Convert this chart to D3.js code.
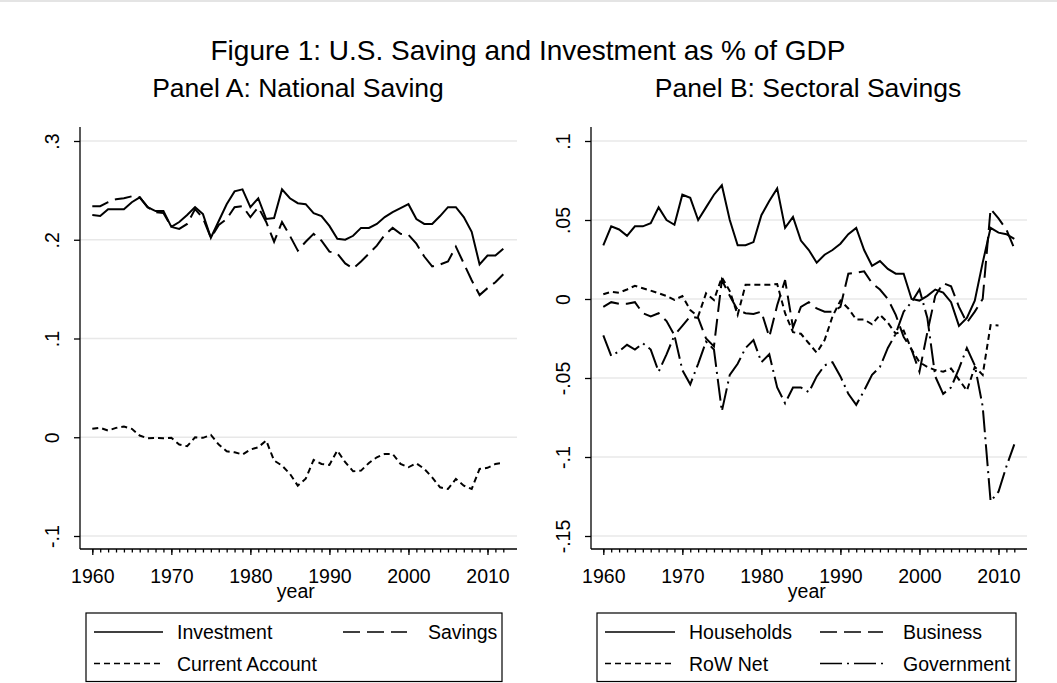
<!DOCTYPE html>
<html>
<head>
<meta charset="utf-8">
<title>Figure 1: U.S. Saving and Investment as % of GDP</title>
<script src="https://cdnjs.cloudflare.com/ajax/libs/d3/7.8.5/d3.min.js"></script>
<style>
    body { margin: 0; background: #fff; }
    svg text { font-family: "Liberation Sans", Arial, sans-serif; fill: #000; }
    .axis path, .axis line { stroke: #000; stroke-width: 1.3; }
</style>
</head>
<body>
<svg id="chart" width="1057" height="683"></svg>
<script>
// ---- data ----
var years = d3.range(1960, 2013);
var rowYears = d3.range(1960, 2011);

// Panel A
var investment = [.225, .224, .231, .231, .231, .238, .243, .233, .229, .229,
    .213, .218, .225, .233, .226, .202, .219, .236, .249, .251,
    .233, .242, .221, .222, .251, .242, .237, .236, .227, .224,
    .214, .201, .200, .204, .212, .212, .216, .223, .228, .232,
    .236, .221, .216, .216, .224, .233, .233, .223, .208, .175,
    .184, .184, .191];
var savings = [.234, .234, .238, .241, .242, .244, .243, .233, .228, .227,
    .213, .211, .216, .231, .222, .202, .215, .221, .233, .234,
    .223, .233, .218, .198, .218, .204, .189, .198, .206, .199,
    .188, .186, .176, .171, .178, .186, .194, .205, .212, .206,
    .205, .196, .183, .173, .175, .178, .193, .176, .159, .144,
    .151, .157, .165];
var currentAccount = [.0085, .0095, .0068, .0095, .0108, .0085, .0017, -.001, -.0006, -.001,
    -.0006, -.0074, -.0091, 0, -.0006, .0024, -.0074, -.0142, -.0152, -.0175,
    -.0125, -.0101, -.0033, -.0236, -.0287, -.037, -.049, -.042, -.023, -.027,
    -.028, -.0135, -.0253, -.0345, -.0338, -.026, -.0203, -.0169, -.0169, -.027,
    -.0304, -.0264, -.032, -.0406, -.0507, -.0524, -.0422, -.049, -.0524, -.032,
    -.031, -.027, -.026];

// Panel B
var households = [.034, .046, .044, .040, .046, .046, .048, .058, .050, .047,
    .066, .064, .050, .058, .066, .072, .050, .034, .034, .036,
    .053, .062, .070, .045, .052, .037, .031, .023, .028, .031,
    .035, .041, .045, .031, .021, .024, .019, .016, .016, .000,
    -.001, .002, .006, .004, -.002, -.017, -.012, -.001, .023, .045,
    .042, .041, .038];
var business = [-.005, -.002, -.003, -.003, -.002, -.009, -.011, -.009, -.014, -.023,
    -.017, -.011, -.012, -.025, -.030, .012, .002, -.007, -.009, -.0095,
    -.008, -.024, -.004, .012, -.018, -.005, -.002, -.006, -.008, -.008,
    -.005, .016, .0167, .0175, .010, .006, .000, -.010, -.024, -.032,
    -.046, -.021, .002, .010, .008, -.005, -.015, -.008, .000, .057,
    .051, .044, .032];
var rowNet = [.003, .0046, .004, .006, .0084, .0068, .0053, .0036, .0019, -.0006,
    .0019, -.007, -.011, .0036, -.0006, .0137, .005, -.010, .009, .009,
    .009, .009, .0095, -.009, -.021, -.022, -.028, -.034, -.026, -.011,
    -.001, -.006, -.013, -.013, -.016, -.010, -.015, -.022, -.020, -.032,
    -.040, -.043, -.045, -.046, -.044, -.051, -.058, -.043, -.048, -.0165,
    -.0168];
var government = [-.023, -.036, -.033, -.029, -.032, -.028, -.032, -.046, -.035, -.023,
    -.045, -.054, -.041, -.027, -.032, -.071, -.048, -.041, -.031, -.026,
    -.040, -.035, -.056, -.066, -.056, -.056, -.059, -.049, -.042, -.040,
    -.049, -.060, -.067, -.058, -.048, -.043, -.031, -.022, -.008, -.002,
    .006, -.012, -.049, -.060, -.056, -.044, -.031, -.042, -.068, -.128,
    -.122, -.106, -.092];

var majorYears = [1960, 1970, 1980, 1990, 2000, 2010];
var ticksA = [-0.1, 0, 0.1, 0.2, 0.3];
var tickLabelsA = ["-.1", "0", ".1", ".2", ".3"];
var ticksB = [-0.15, -0.1, -0.05, 0, 0.05, 0.1];
var tickLabelsB = ["-.15", "-.1", "-.05", "0", ".05", ".1"];

var dashes = {
    solid: null,
    longdash: "17,7",
    shortdash: "6,4",
    dashdot: "22,5,2,5"
};

var smallFont = 19.5;

var svg = d3.select("#chart");

svg.append("line")
    .attr("x1", 0).attr("x2", 1057).attr("y1", 1).attr("y2", 1)
    .attr("stroke", "#e4e4e4").attr("stroke-width", 2);

svg.append("text")
    .attr("x", 528).attr("y", 60)
    .attr("text-anchor", "middle")
    .attr("font-size", 28)
    .text("Figure 1: U.S. Saving and Investment as % of GDP");

function drawPanel(p) {
    var g = svg.append("g");
    var top = 127, bottom = 549;

    var x = d3.scaleLinear().domain([1960, 2012]).range([p.left + 12.3, p.left + 423.3]);
    var y = d3.scaleLinear().domain(p.yDomain).range([536, 141]);

    // grid
    g.selectAll(".gl")
        .data(p.ticks)
        .enter()
        .append("line")
        .attr("x1", p.left).attr("x2", p.right)
        .attr("y1", function (d) { return y(d); })
        .attr("y2", function (d) { return y(d); })
        .attr("stroke", "#e8e8e8")
        .attr("stroke-width", 1.6);

    // y axis
    var yAxis = d3.axisLeft(y)
        .tickValues(p.ticks)
        .tickSize(6)
        .tickFormat(function (d, i) { return p.labels[i]; });
    var ya = g.append("g")
        .attr("class", "axis")
        .attr("transform", "translate(" + p.left + ",0)")
        .call(yAxis);
    ya.select(".domain").remove();
    ya.selectAll("text")
        .attr("transform", "rotate(-90)")
        .attr("x", 0).attr("y", -21).attr("dy", 0)
        .attr("text-anchor", "middle")
        .attr("font-size", smallFont)
        .attr("font-family", null);
    g.append("line")
        .attr("x1", p.left).attr("x2", p.left)
        .attr("y1", top).attr("y2", bottom)
        .attr("stroke", "#000").attr("stroke-width", 1.3);

    // x axis: yearly minor ticks, labelled decades
    var xMinor = d3.axisBottom(x).tickValues(years).tickSize(3.5).tickFormat("");
    var xm = g.append("g")
        .attr("class", "axis")
        .attr("transform", "translate(0," + bottom + ")")
        .call(xMinor);
    xm.select(".domain").remove();
    var xAxis = d3.axisBottom(x).tickValues(majorYears).tickSize(6).tickFormat(d3.format("d"));
    var xa = g.append("g")
        .attr("class", "axis")
        .attr("transform", "translate(0," + bottom + ")")
        .call(xAxis);
    xa.select(".domain").remove();
    xa.selectAll("text")
        .attr("y", 34).attr("dy", 0)
        .attr("font-size", smallFont)
        .attr("font-family", null);
    g.append("line")
        .attr("x1", p.left).attr("x2", p.right)
        .attr("y1", bottom).attr("y2", bottom)
        .attr("stroke", "#000").attr("stroke-width", 1.3);

    g.append("text")
        .attr("x", (x(1960) + x(2012)) / 2 - 2).attr("y", 598)
        .attr("text-anchor", "middle")
        .attr("font-size", smallFont)
        .text("year");

    g.append("text")
        .attr("x", p.titleX).attr("y", 97)
        .attr("text-anchor", "middle")
        .attr("font-size", 26.5)
        .text(p.title);

    // series
    p.series.forEach(function (s) {
        var line = d3.line()
            .x(function (d, i) { return x(s.years[i]); })
            .y(function (d) { return y(d); });
        g.append("path")
            .datum(s.values)
            .attr("d", line)
            .attr("fill", "none")
            .attr("stroke", "#000")
            .attr("stroke-width", 2)
            .attr("stroke-dasharray", dashes[s.dash]);
    });

    // legend
    var lg = g.append("g");
    lg.append("rect")
        .attr("x", p.legend.x).attr("y", 613)
        .attr("width", p.legend.w).attr("height", 68.5)
        .attr("fill", "#fff").attr("stroke", "#000").attr("stroke-width", 1.2);
    p.series.forEach(function (s, i) {
        var col = i % 2, row = Math.floor(i / 2);
        var ly = 632 + row * 31.5;
        var c = p.legend.cols[col];
        lg.append("line")
            .attr("x1", c.x1).attr("x2", c.x2)
            .attr("y1", ly).attr("y2", ly)
            .attr("stroke", "#000").attr("stroke-width", 1.6)
            .attr("stroke-dasharray", dashes[s.dash]);
        lg.append("text")
            .attr("x", c.tx).attr("y", ly + 7)
            .attr("font-size", smallFont)
            .text(s.name);
    });
}

drawPanel({
    left: 80, right: 517,
    yDomain: [-0.1, 0.3],
    ticks: ticksA, labels: tickLabelsA,
    title: "Panel A: National Saving", titleX: 298,
    series: [
        { name: "Investment", values: investment, years: years, dash: "solid" },
        { name: "Savings", values: savings, years: years, dash: "longdash" },
        { name: "Current Account", values: currentAccount, years: years, dash: "shortdash" }
    ],
    legend: { x: 86, w: 416, cols: [{ x1: 94, x2: 163, tx: 177 }, { x1: 343, x2: 407, tx: 428 }] }
});

drawPanel({
    left: 591, right: 1027,
    yDomain: [-0.15, 0.1],
    ticks: ticksB, labels: tickLabelsB,
    title: "Panel B: Sectoral Savings", titleX: 808,
    series: [
        { name: "Households", values: households, years: years, dash: "solid" },
        { name: "Business", values: business, years: years, dash: "longdash" },
        { name: "RoW Net", values: rowNet, years: rowYears, dash: "shortdash" },
        { name: "Government", values: government, years: years, dash: "dashdot" }
    ],
    legend: { x: 597, w: 419, cols: [{ x1: 605, x2: 675, tx: 689 }, { x1: 820, x2: 883, tx: 903 }] }
});
</script>
</body>
</html>
